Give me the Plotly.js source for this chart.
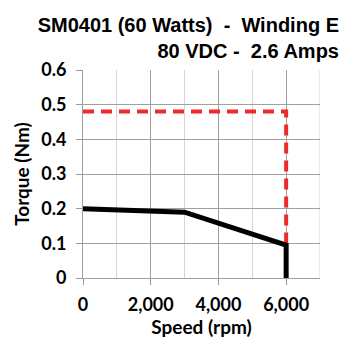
<!DOCTYPE html>
<html><head><meta charset="utf-8">
<script src="https://cdn.plot.ly/plotly-3.0.1.min.js"></script>
<style>html,body{margin:0;padding:0;background:#fff}#c{width:350px;height:350px}</style>
</head><body><div id="c"></div>
<script>
const torqueSpeed = [0, 3000, 6000, 6000];
const torqueValues = [0.20, 0.19, 0.095, 0];
const limitSpeed = [0, 6000, 6000];
const limitValues = [0.48, 0.48, 0.1];
const xTickVals = [0, 2000, 4000, 6000];
const xTickText = ['0', '2,000', '4,000', '6,000'];
const yTickVals = [0, 0.1, 0.2, 0.3, 0.4, 0.5, 0.6];
const yTickText = ['0', '0.1', '0.2', '0.3', '0.4', '0.5', '0.6'];

const tickFont = {family: 'Lato, "Open Sans", sans-serif', size: 18, color: '#000', weight: 'bold'};
const axTitleFont = {family: 'Lato, "Open Sans", sans-serif', size: 19, color: '#000', weight: 'bold'};
const data = [
  {x: limitSpeed, y: limitValues, mode: 'lines', line: {color: '#ee2a2a', width: 4, dash: '11px,7px'}, hoverinfo: 'skip'},
  {x: torqueSpeed, y: torqueValues, mode: 'lines', line: {color: '#000', width: 5}, hoverinfo: 'skip'}
];
const layout = {
  width: 350, height: 350,
  margin: {l: 83, r: 30, t: 70, b: 72},
  paper_bgcolor: '#fff', plot_bgcolor: '#fff',
  showlegend: false,
  title: {
    text: 'SM0401 (60 Watts)  -  Winding E<br>80 VDC -  2.6 Amps',
    font: {family: '"Liberation Sans", Arial, sans-serif', size: 20, color: '#000', weight: 'bold'},
    x: 339 / 350, xanchor: 'right', xref: 'container', y: 1 - 32 / 350, yanchor: 'middle', yref: 'container', align: 'right'
  },
  xaxis: {
    range: [0, 7000], tickvals: xTickVals, ticktext: xTickText,
    showgrid: true, gridcolor: '#a0a0a0', gridwidth: 1,
    minor: {dtick: 1000, tick0: 0, showgrid: true, gridcolor: '#d4d4d4', gridwidth: 1, ticks: ''},
    ticks: 'outside', ticklen: 6, tickcolor: '#999', tickwidth: 1,
    showline: true, linecolor: '#a0a0a0', linewidth: 1, zeroline: false,
    tickfont: tickFont, ticklabelstandoff: 4,
    title: {text: 'Speed (rpm)', font: axTitleFont, standoff: 4},
    fixedrange: true
  },
  yaxis: {
    range: [0, 0.6], tickvals: yTickVals, ticktext: yTickText,
    showgrid: true, gridcolor: '#a0a0a0', gridwidth: 1,
    ticks: 'outside', ticklen: 6, tickcolor: '#999', tickwidth: 1,
    showline: true, linecolor: '#a0a0a0', linewidth: 1, zeroline: false,
    tickfont: tickFont, ticklabelstandoff: 6,
    title: {text: 'Torque (Nm)', font: axTitleFont, standoff: 6},
    fixedrange: true
  },
  shapes: [
    {type: 'line', xref: 'x', yref: 'y', x0: 7000, x1: 7000, y0: 0, y1: 0.6, line: {color: '#d4d4d4', width: 1}, layer: 'below'}
  ]
};
Plotly.newPlot('c', data, layout, {staticPlot: true, displayModeBar: false});
</script></body></html>
